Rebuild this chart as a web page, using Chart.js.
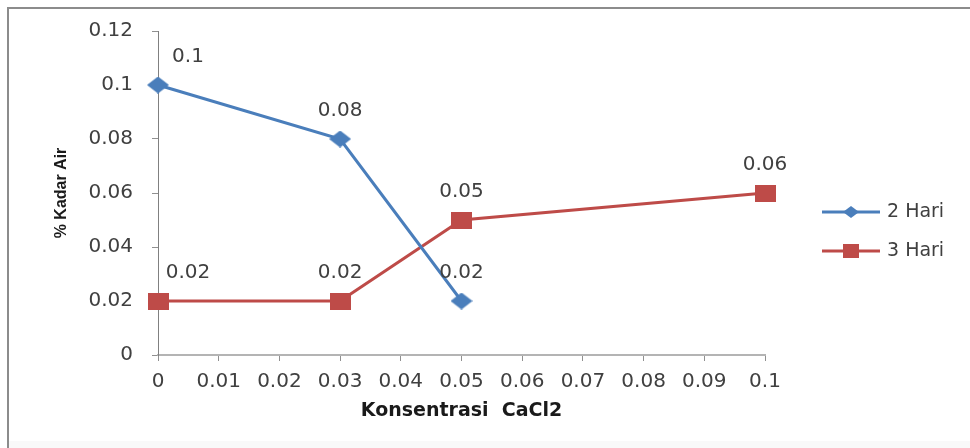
<!DOCTYPE html>
<html>
<head>
<meta charset="utf-8">
<script src="https://cdn.jsdelivr.net/npm/chart.js@4/dist/chart.umd.min.js"></script>
<style>
  html, body { margin: 0; padding: 0; background: #ffffff; }
  #wrap { position: relative; width: 970px; height: 448px; overflow: hidden; }
  #frame { position: absolute; left: 7px; top: 7px; width: 980px; height: 450px;
           border-top: 2px solid #8c8c8c; border-left: 2px solid #8c8c8c; }
  #foot { position: absolute; left: 9px; width: 961px; bottom: 0; height: 7px; background: #f9f9f9; }
  canvas { position: absolute; left: 0; top: 0; }
</style>
</head>
<body>
<div id="wrap">
  <div id="frame"></div>
  <div id="foot"></div>
  <canvas id="chart" width="970" height="448"></canvas>
</div>
<script>
// CaCl2 concentration (x) against water content (%) for two soaking times
const seriesNames = ['2 Hari', '3 Hari'];
const konsentrasi2Hari = [0, 0.03, 0.05];
const kadarAir2Hari = [0.1, 0.08, 0.02];
const konsentrasi3Hari = [0, 0.03, 0.05, 0.1];
const kadarAir3Hari = [0.02, 0.02, 0.05, 0.06];
const xTickLabels = ['0', '0.01', '0.02', '0.03', '0.04', '0.05', '0.06', '0.07', '0.08', '0.09', '0.1'];
const yTickLabels = ['0', '0.02', '0.04', '0.06', '0.08', '0.1', '0.12'];

const BLUE = '#4a7ebb';
const RED = '#be4b48';
const TEXT = '#404040';
const FONT = 'DejaVu Sans';

const toPoints = (xs, ys) => xs.map((x, i) => ({ x: x, y: ys[i] }));

// marker images: a wide diamond and a wide square
function markerCanvas(kind, w, h, color) {
  const c = document.createElement('canvas');
  c.width = w; c.height = h;
  const g = c.getContext('2d');
  g.fillStyle = color;
  g.beginPath();
  if (kind === 'diamond') {
    g.moveTo(w / 2, 0); g.lineTo(w, h / 2); g.lineTo(w / 2, h); g.lineTo(0, h / 2);
    g.closePath();
  } else {
    g.rect(0, 0, w, h);
  }
  g.fill();
  return c;
}
const diamond = markerCanvas('diamond', 22, 17, BLUE);
const square = markerCanvas('square', 21, 17, RED);
const legendDiamond = markerCanvas('diamond', 16, 12, BLUE);
const legendSquare = markerCanvas('square', 16, 14, RED);

// value labels above each marker
const valueLabels = {
  id: 'valueLabels',
  afterDatasetsDraw(chart) {
    const ctx = chart.ctx;
    const xScale = chart.scales.x;
    ctx.save();
    ctx.font = '20px "' + FONT + '"';
    ctx.fillStyle = TEXT;
    ctx.textAlign = 'center';
    ctx.textBaseline = 'middle';
    chart.data.datasets.forEach((ds, di) => {
      chart.getDatasetMeta(di).data.forEach((pt, i) => {
        const v = ds.data[i].y;
        let x = pt.x;
        if (ds.data[i].x === xScale.min) x += 30;
        ctx.fillText(String(v), x, pt.y - 28);
      });
    });
    ctx.restore();
  }
};

// legend on the right: line sample with its marker, then the name
const sideLegend = {
  id: 'sideLegend',
  afterDraw(chart) {
    const ctx = chart.ctx;
    const area = chart.chartArea;
    const x0 = area.right + 57;
    const x1 = x0 + 58;
    const rows = [212, 251];
    const marks = [legendDiamond, legendSquare];
    ctx.save();
    chart.data.datasets.forEach((ds, di) => {
      const y = rows[di];
      ctx.strokeStyle = ds.borderColor;
      ctx.lineWidth = ds.borderWidth;
      ctx.beginPath();
      ctx.moveTo(x0, y);
      ctx.lineTo(x1, y);
      ctx.stroke();
      const m = marks[di];
      ctx.drawImage(m, (x0 + x1) / 2 - m.width / 2, y - m.height / 2);
      ctx.fillStyle = TEXT;
      ctx.font = '19px "' + FONT + '"';
      ctx.textAlign = 'left';
      ctx.textBaseline = 'middle';
      ctx.fillText(ds.label, x1 + 7, y);
    });
    ctx.restore();
  }
};

new Chart(document.getElementById('chart'), {
  type: 'scatter',
  data: {
    datasets: [
      {
        label: seriesNames[0],
        data: toPoints(konsentrasi2Hari, kadarAir2Hari),
        showLine: true,
        borderColor: BLUE,
        backgroundColor: BLUE,
        borderWidth: 3,
        pointStyle: diamond,
        pointRadius: 9,
        pointHoverRadius: 9,
        clip: false
      },
      {
        label: seriesNames[1],
        data: toPoints(konsentrasi3Hari, kadarAir3Hari),
        showLine: true,
        borderColor: RED,
        backgroundColor: RED,
        borderWidth: 3,
        pointStyle: square,
        pointRadius: 10,
        pointHoverRadius: 10,
        clip: false
      }
    ]
  },
  options: {
    responsive: false,
    animation: false,
    events: [],
    layout: { padding: { top: 31, right: 205, bottom: 0, left: 0 } },
    plugins: { legend: { display: false }, tooltip: { enabled: false } },
    scales: {
      x: {
        type: 'linear',
        min: 0,
        max: 0.1,
        afterFit(scale) { scale.height = 93; },
        border: { display: true, color: '#b4b4b4', width: 2 },
        grid: { drawOnChartArea: false, drawTicks: true, tickLength: 6, color: '#909090' },
        ticks: {
          stepSize: 0.01,
          padding: 9,
          color: TEXT,
          font: { family: FONT, size: 20 },
          maxRotation: 0,
          autoSkip: false,
          callback: (v, i) => xTickLabels[i]
        },
        title: {
          display: true,
          text: 'Konsentrasi  CaCl2',
          color: '#1a1a1a',
          font: { family: FONT, size: 19, weight: 'bold' },
          padding: { top: 0, bottom: 26 }
        }
      },
      y: {
        min: 0,
        max: 0.12,
        afterFit(scale) { scale.width = 158; },
        border: { display: true, color: '#808080', width: 1 },
        grid: { drawOnChartArea: false, drawTicks: true, tickLength: 6, color: '#909090' },
        ticks: {
          stepSize: 0.02,
          padding: 19,
          color: TEXT,
          font: { family: FONT, size: 20 },
          callback: (v, i) => yTickLabels[i]
        },
        title: {
          display: true,
          text: '% Kadar Air',
          color: '#1a1a1a',
          font: { family: 'Liberation Sans', size: 16, weight: 'bold' },
          padding: { top: 52, bottom: 0 }
        }
      }
    }
  },
  plugins: [valueLabels, sideLegend]
});
</script>
</body>
</html>
